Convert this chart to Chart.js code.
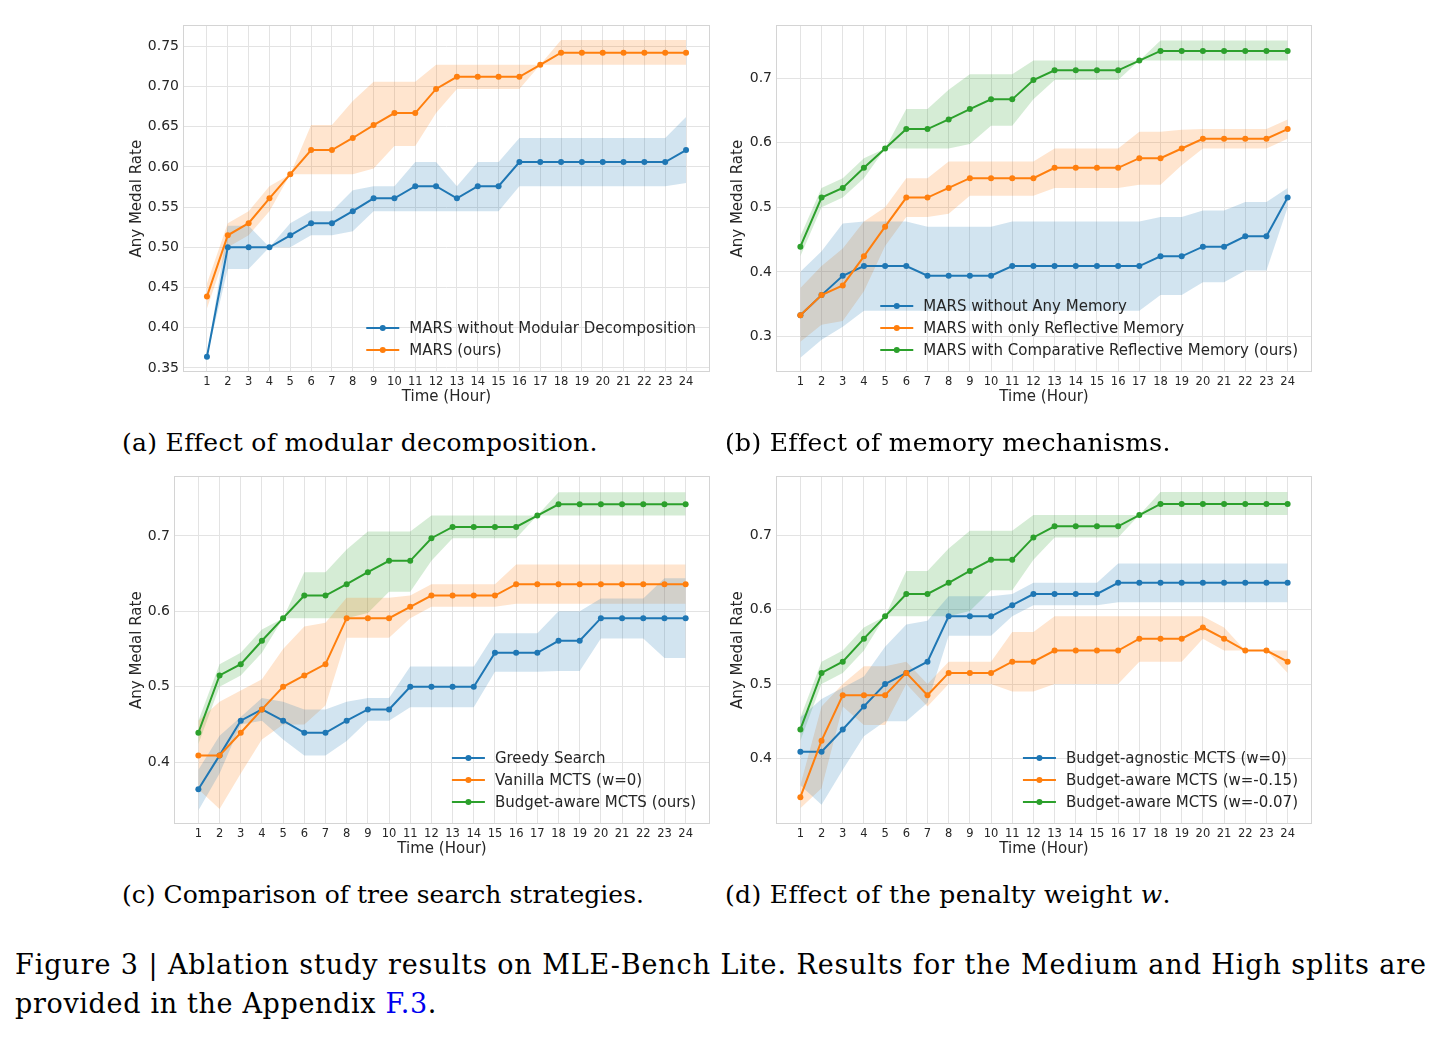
<!DOCTYPE html>
<html><head><meta charset="utf-8">
<script src="https://cdn.jsdelivr.net/npm/chart.js@4.4.1/dist/chart.umd.min.js"></script>
<style>
html,body{margin:0;padding:0;background:#fff;}
body{width:1442px;height:1038px;position:relative;overflow:hidden;font-family:"DejaVu Serif",serif;color:#000;}
.panel{position:absolute;}
.panel canvas{display:block;}
.cap{position:absolute;white-space:nowrap;font-size:25px;line-height:28px;}
.fig{position:absolute;left:15px;font-size:27px;line-height:30px;white-space:nowrap;}
.blue{color:#0000ee;}
</style></head><body>
<div class="panel" style="left:100px;top:13px;"><canvas id="ca" width="620" height="400"></canvas></div>
<div class="panel" style="left:700px;top:13px;"><canvas id="cb" width="622" height="400"></canvas></div>
<div class="panel" style="left:100px;top:464px;"><canvas id="cc" width="620" height="400"></canvas></div>
<div class="panel" style="left:700px;top:464px;"><canvas id="cd" width="622" height="400"></canvas></div>

<div class="cap" data-w="475" style="left:122px;top:429px;">(a) Effect of modular decomposition.</div>
<div class="cap" data-w="445" style="left:725px;top:429px;">(b) Effect of memory mechanisms.</div>
<div class="cap" data-w="522" style="left:122px;top:881px;">(c) Comparison of tree search strategies.</div>
<div class="cap" data-w="445" style="left:725px;top:881px;">(d) Effect of the penalty weight <i>w</i>.</div>
<div class="fig" data-w="1412" style="top:950px;">Figure 3 | Ablation study results on MLE-Bench Lite. Results for the Medium and High splits are</div>
<div class="fig" data-w="422" style="top:989px;">provided in the Appendix <span class="blue">F.3</span>.</div>

<script>
// ---------------- DATA ----------------
const hours = [1,2,3,4,5,6,7,8,9,10,11,12,13,14,15,16,17,18,19,20,21,22,23,24];

// MARS (ours) / Budget-aware MCTS (ours, w=-0.07)
const oursMean = [0.439,0.515,0.530,0.561,0.591,0.621,0.621,0.636,0.652,0.667,0.667,0.697,0.712,0.712,0.712,0.712,0.727,0.742,0.742,0.742,0.742,0.742,0.742,0.742];
const oursLow  = [0.424,0.500,0.515,0.545,0.591,0.591,0.591,0.591,0.598,0.626,0.626,0.667,0.697,0.697,0.697,0.697,0.727,0.727,0.727,0.727,0.727,0.727,0.727,0.727];
const oursHigh = [0.455,0.530,0.545,0.576,0.591,0.652,0.652,0.682,0.706,0.706,0.706,0.727,0.727,0.727,0.727,0.727,0.727,0.758,0.758,0.758,0.758,0.758,0.758,0.758];

// (a) MARS without Modular Decomposition
const noModMean = [0.364,0.500,0.500,0.500,0.515,0.530,0.530,0.545,0.561,0.561,0.576,0.576,0.561,0.576,0.576,0.606,0.606,0.606,0.606,0.606,0.606,0.606,0.606,0.621];
const noModLow  = [0.364,0.473,0.473,0.500,0.500,0.515,0.515,0.520,0.545,0.545,0.545,0.545,0.545,0.545,0.545,0.576,0.576,0.576,0.576,0.576,0.576,0.576,0.576,0.580];
const noModHigh = [0.364,0.527,0.527,0.500,0.530,0.545,0.545,0.571,0.576,0.576,0.606,0.606,0.576,0.606,0.606,0.636,0.636,0.636,0.636,0.636,0.636,0.636,0.636,0.662];

// (b) MARS without Any Memory
const noMemMean = [0.333,0.364,0.394,0.409,0.409,0.409,0.394,0.394,0.394,0.394,0.409,0.409,0.409,0.409,0.409,0.409,0.409,0.424,0.424,0.439,0.439,0.455,0.455,0.515];
const noMemLow  = [0.267,0.295,0.315,0.340,0.340,0.340,0.340,0.340,0.340,0.340,0.340,0.340,0.340,0.340,0.340,0.340,0.340,0.364,0.364,0.384,0.384,0.402,0.402,0.500];
const noMemHigh = [0.400,0.432,0.475,0.478,0.478,0.478,0.470,0.470,0.470,0.470,0.478,0.478,0.478,0.478,0.478,0.478,0.478,0.485,0.485,0.495,0.495,0.508,0.508,0.530];

// (b) MARS with only Reflective Memory
const reflMean = [0.333,0.364,0.379,0.424,0.470,0.515,0.515,0.530,0.545,0.545,0.545,0.545,0.561,0.561,0.561,0.561,0.576,0.576,0.591,0.606,0.606,0.606,0.606,0.621];
const reflLow  = [0.292,0.318,0.324,0.370,0.440,0.485,0.485,0.490,0.518,0.518,0.518,0.518,0.530,0.530,0.530,0.530,0.535,0.535,0.565,0.591,0.591,0.591,0.591,0.606];
const reflHigh = [0.375,0.409,0.436,0.478,0.500,0.545,0.545,0.571,0.571,0.571,0.571,0.571,0.591,0.591,0.591,0.591,0.617,0.617,0.620,0.621,0.621,0.621,0.621,0.636];

// (c) Greedy Search
const greedyMean = [0.364,0.409,0.455,0.470,0.455,0.439,0.439,0.455,0.470,0.470,0.500,0.500,0.500,0.500,0.545,0.545,0.545,0.561,0.561,0.591,0.591,0.591,0.591,0.591];
const greedyLow  = [0.336,0.385,0.450,0.455,0.430,0.409,0.409,0.428,0.455,0.455,0.473,0.473,0.473,0.473,0.520,0.520,0.520,0.521,0.521,0.564,0.564,0.564,0.538,0.538];
const greedyHigh = [0.390,0.435,0.460,0.485,0.480,0.470,0.470,0.480,0.485,0.485,0.527,0.527,0.527,0.527,0.571,0.571,0.571,0.600,0.600,0.617,0.617,0.617,0.644,0.644];

// (c) Vanilla MCTS (w=0) / (d) Budget-agnostic MCTS (w=0)
const w0Mean = [0.409,0.409,0.439,0.470,0.500,0.515,0.530,0.591,0.591,0.591,0.606,0.621,0.621,0.621,0.621,0.636,0.636,0.636,0.636,0.636,0.636,0.636,0.636,0.636];
const w0Low  = [0.364,0.338,0.385,0.430,0.450,0.450,0.475,0.565,0.565,0.565,0.591,0.606,0.606,0.606,0.606,0.610,0.610,0.610,0.610,0.610,0.610,0.610,0.610,0.610];
const w0High = [0.455,0.480,0.495,0.510,0.550,0.580,0.585,0.618,0.618,0.618,0.621,0.636,0.636,0.636,0.636,0.662,0.662,0.662,0.662,0.662,0.662,0.662,0.662,0.662];

// (d) Budget-aware MCTS (w=-0.15)
const w015Mean = [0.348,0.424,0.485,0.485,0.485,0.515,0.485,0.515,0.515,0.515,0.530,0.530,0.545,0.545,0.545,0.545,0.561,0.561,0.561,0.576,0.561,0.545,0.545,0.530];
const w015Low  = [0.333,0.360,0.470,0.445,0.445,0.500,0.470,0.500,0.500,0.500,0.490,0.490,0.500,0.500,0.500,0.500,0.530,0.530,0.530,0.561,0.545,0.545,0.545,0.515];
const w015High = [0.364,0.470,0.500,0.524,0.524,0.530,0.500,0.530,0.530,0.530,0.570,0.570,0.591,0.591,0.591,0.591,0.591,0.591,0.591,0.591,0.576,0.545,0.545,0.545];

// legend labels
const labelsA = ['MARS without Modular Decomposition', 'MARS (ours)'];
const labelsB = ['MARS without Any Memory', 'MARS with only Reflective Memory', 'MARS with Comparative Reflective Memory (ours)'];
const labelsC = ['Greedy Search', 'Vanilla MCTS (w=0)', 'Budget-aware MCTS (ours)'];
const labelsD = ['Budget-agnostic MCTS (w=0)', 'Budget-aware MCTS (w=-0.15)', 'Budget-aware MCTS (w=-0.07)'];

// tick labels
const yTicksA = ['0.35','0.40','0.45','0.50','0.55','0.60','0.65','0.70','0.75'];
const yTicksB = ['0.3','0.4','0.5','0.6','0.7'];
const yTicksC = ['0.4','0.5','0.6','0.7'];
const yTicksD = ['0.4','0.5','0.6','0.7'];
const xTitle = 'Time (Hour)';
const yTitle = 'Any Medal Rate';

// ---------------- STYLE ----------------
const BLUE = '#1f77b4', ORANGE = '#ff7f0e', GREEN = '#2ca02c';
function rgba(hex, a){ const n = parseInt(hex.slice(1),16); return `rgba(${n>>16},${(n>>8)&255},${n&255},${a})`; }
const TEXT = '#262626';
const GRID = '#e3e3e3';
const FONT = '"DejaVu Sans", sans-serif';

const framePlugin = {
  id: 'frame',
  afterDatasetsDraw(chart) {
    const {ctx, chartArea: a} = chart;
    ctx.save();
    ctx.strokeStyle = '#d4d4d4'; ctx.lineWidth = 1;
    ctx.strokeRect(Math.round(a.left) + 0.5, Math.round(a.top) + 0.5, Math.round(a.right - a.left) - 1, Math.round(a.bottom - a.top) - 1);
    ctx.restore();
  }
};
const legendPlugin = {
  id: 'insideLegend',
  afterDatasetsDraw(chart, args, opts) {
    const {ctx, chartArea: a} = chart;
    const items = opts.items || [];
    ctx.save();
    ctx.font = `${opts.size}px ${FONT}`;
    const maxW = Math.max(...items.map(it => ctx.measureText(it.label).width));
    const tx = a.right - opts.right - maxW;
    const n = items.length;
    items.forEach((it, i) => {
      const y = a.bottom - opts.bottom - (n - 1 - i) * opts.spacing;
      const x1 = tx - opts.gap - opts.handle, x2 = tx - opts.gap;
      ctx.strokeStyle = it.color; ctx.lineWidth = 2;
      ctx.beginPath(); ctx.moveTo(x1, y); ctx.lineTo(x2, y); ctx.stroke();
      ctx.fillStyle = it.color;
      ctx.beginPath(); ctx.arc((x1 + x2) / 2, y, 3, 0, Math.PI * 2); ctx.fill();
      ctx.fillStyle = TEXT; ctx.textBaseline = 'middle'; ctx.textAlign = 'left';
      ctx.fillText(it.label, tx, y + 1);
    });
    ctx.restore();
  }
};

function pts(arr){ return hours.map((h, i) => ({x: h, y: arr[i]})); }

function makeChart(id, cfg) {
  const datasets = [];
  cfg.series.forEach((s) => {
    datasets.push({data: pts(s.low), borderWidth: 0, pointRadius: 0, fill: false, order: 100});
    datasets.push({data: pts(s.high), borderWidth: 0, pointRadius: 0, fill: '-1', backgroundColor: rgba(s.color, 0.2), order: 100});
  });
  cfg.series.forEach((s, i) => {
    datasets.push({label: s.label, data: pts(s.mean), borderColor: s.color, backgroundColor: s.color,
      borderWidth: 2, pointRadius: 3, pointBorderWidth: 0, pointBackgroundColor: s.color,
      tension: 0, fill: false, order: 10 - i});
  });
  const tickVals = cfg.yTicks.map(Number);
  new Chart(document.getElementById(id), {
    type: 'line',
    data: {datasets},
    plugins: [framePlugin, legendPlugin],
    options: {
      responsive: false, animation: false, devicePixelRatio: 1,
      layout: {padding: {top: 10, right: 10, left: 0, bottom: 0}},
      plugins: {
        legend: {display: false}, tooltip: {enabled: false},
        filler: {drawTime: 'beforeDatasetsDraw'},
        insideLegend: {items: cfg.series.map(s => ({label: s.label, color: s.color})),
          size: 15, right: 14, bottom: 22, spacing: 22, handle: 33, gap: 10}
      },
      scales: {
        x: {
          type: 'linear', min: -0.15, max: 25.15,
          afterBuildTicks: ax => { ax.ticks = hours.map(v => ({value: v})); },
          afterFit: ax => { ax.height = cfg.xH; },
          ticks: {autoSkip: false, maxRotation: 0, minRotation: 0, padding: 3, color: TEXT,
            font: {family: FONT, size: 11.5}, callback: (v, i) => String(hours[i])},
          grid: {color: GRID, lineWidth: 1, drawTicks: false},
          border: {display: false},
          title: {display: true, text: xTitle, color: TEXT, font: {family: FONT, size: 15}, padding: {top: 0, bottom: cfg.xTitlePad}}
        },
        y: {
          type: 'linear', min: cfg.yMin, max: cfg.yMax,
          afterBuildTicks: ax => { ax.ticks = tickVals.map(v => ({value: v})); },
          afterFit: ax => { ax.width = cfg.yW; },
          ticks: {padding: 4, color: TEXT, font: {family: FONT, size: 14}, callback: (v, i) => cfg.yTicks[i]},
          grid: {color: GRID, lineWidth: 1, drawTicks: false},
          border: {display: false},
          title: {display: true, text: yTitle, color: TEXT, font: {family: FONT, size: 15}, padding: {top: cfg.yTitlePad, bottom: 0}}
        }
      }
    }
  });
}

makeChart('ca', {yMin: 0.345, yMax: 0.776, yTicks: yTicksA, yW: 83, xH: 41, xTitlePad: 7, yTitlePad: 28,
  series: [
    {label: labelsA[0], color: BLUE, mean: noModMean, low: noModLow, high: noModHigh},
    {label: labelsA[1], color: ORANGE, mean: oursMean, low: oursLow, high: oursHigh}
  ]});
makeChart('cb', {yMin: 0.245, yMax: 0.7815, yTicks: yTicksB, yW: 76, xH: 41, xTitlePad: 7, yTitlePad: 29,
  series: [
    {label: labelsB[0], color: BLUE, mean: noMemMean, low: noMemLow, high: noMemHigh},
    {label: labelsB[1], color: ORANGE, mean: reflMean, low: reflLow, high: reflHigh},
    {label: labelsB[2], color: GREEN, mean: oursMean, low: oursLow, high: oursHigh}
  ]});
makeChart('cc', {yMin: 0.318, yMax: 0.779, yTicks: yTicksC, yW: 74, xH: 40, xTitlePad: 6, yTitlePad: 28,
  series: [
    {label: labelsC[0], color: BLUE, mean: greedyMean, low: greedyLow, high: greedyHigh},
    {label: labelsC[1], color: ORANGE, mean: w0Mean, low: w0Low, high: w0High},
    {label: labelsC[2], color: GREEN, mean: oursMean, low: oursLow, high: oursHigh}
  ]});
makeChart('cd', {yMin: 0.312, yMax: 0.779, yTicks: yTicksD, yW: 76, xH: 40, xTitlePad: 6, yTitlePad: 29,
  series: [
    {label: labelsD[0], color: BLUE, mean: w0Mean, low: w0Low, high: w0High},
    {label: labelsD[1], color: ORANGE, mean: w015Mean, low: w015Low, high: w015High},
    {label: labelsD[2], color: GREEN, mean: oursMean, low: oursLow, high: oursHigh}
  ]});

function fitCaps(){
  document.querySelectorAll('[data-w]').forEach(el => {
    el.style.letterSpacing = '0px';
    const w = el.getBoundingClientRect().width;
    const n = el.textContent.length;
    const target = Number(el.dataset.w);
    el.style.letterSpacing = ((target - w) / n) + 'px';
  });
}
fitCaps();
if (document.fonts && document.fonts.ready) document.fonts.ready.then(fitCaps);
</script>
</body></html>
